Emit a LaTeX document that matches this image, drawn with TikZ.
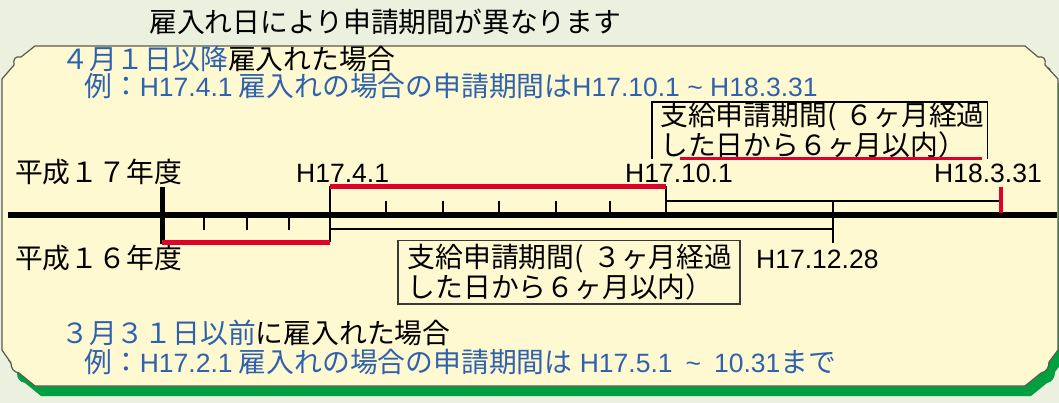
\documentclass[tikz,border=0pt]{standalone}
\usepackage{fontspec}
\setmainfont{Noto Sans CJK JP}
\newfontfamily\latinfam{Liberation Sans}
\newcommand\lt[1]{{\latinfam\fontsize{26.5}{28}\selectfont #1}}
\definecolor{bgcol}{HTML}{EBF1DE}
\definecolor{cardcol}{HTML}{FFF9D1}
\definecolor{cardline}{HTML}{5A5A4A}
\definecolor{shadowgreen}{HTML}{00A040}
\definecolor{txtblue}{HTML}{2F62AE}
\definecolor{markred}{HTML}{E1002A}
\definecolor{boxgray}{HTML}{3A3A3A}
\tikzset{
  txt/.style={inner sep=0pt, anchor=base west, font=\fontsize{27.8}{28}\selectfont},
  bluetxt/.style={txt, text=txtblue},
  mainline/.style={line width=5.5pt, black},
  thinline/.style={line width=2pt, black},
  redbar/.style={line width=4.5pt, markred},
  tickline/.style={line width=1.8pt, black},
}
\begin{document}
\begin{tikzpicture}[x=1pt,y=-1pt]
\useasboundingbox (0,0) rectangle (1059,403);
\clip (0,0) rectangle (1059,403);
\fill[bgcol] (0,0) rectangle (1059,403);
% shadow
\begin{scope}[shift={(6,10)}]
\fill[shadowgreen] (35,46) -- (1025,46) -- (1038,57) .. controls (1044,56) and (1046,59) .. (1045,65) -- (1058,79) -- (1058,350) -- (1049,362) .. controls (1049,368) and (1046,372) .. (1041,373) -- (1025,386) -- (35,386) -- (19,373) .. controls (14,372) and (11,369) .. (11,363) -- (2,350) -- (2,79) -- (14,65) .. controls (13,59) and (15,56) .. (21,57) -- cycle;
\end{scope}
% card
\filldraw[fill=cardcol, draw=cardline, line width=1.2pt] (35,46) -- (1025,46) -- (1038,57) .. controls (1044,56) and (1046,59) .. (1045,65) -- (1058,79) -- (1058,350) -- (1049,362) .. controls (1049,368) and (1046,372) .. (1041,373) -- (1025,386) -- (35,386) -- (19,373) .. controls (14,372) and (11,369) .. (11,363) -- (2,350) -- (2,79) -- (14,65) .. controls (13,59) and (15,56) .. (21,57) -- cycle;

% texts
\node[txt] (title) at (149,33) {雇入れ日により申請期間が異なります};
\node[bluetxt] (after) at (61,70) {４月１日以降\textcolor{black}{雇入れた場合}};
\node[bluetxt] (ex1) at (84,97) {例：\lt{H17.4.1} 雇入れの場合の申請期間は\lt{H17.10.1 \textasciitilde\ H18.3.31}};
\node[txt] (fy17) at (15,183) {平成１７年度};
\node[txt] (fy16) at (15,268) {平成１６年度};
\node[txt] (d0401) at (296,183) {\lt{H17.4.1}};
\node[txt] (d1001) at (625,183) {\lt{H17.10.1}};
\node[txt] (d0331) at (934,183) {\lt{H18.3.31}};
\node[txt] (d1228) at (756,268) {\lt{H17.12.28}};
\node[bluetxt] (before) at (61,343) {３月３１日以前\textcolor{black}{に雇入れた場合}};
\node[bluetxt] (ex2) at (84,372) {例：\lt{H17.2.1} 雇入れの場合の申請期間は\lt{ H17.5.1\hspace{13pt}\textasciitilde\hspace{13pt}10.31}まで};

% boxes
\node[align=left, inner ysep=0pt, font=\fontsize{27.8}{27}\selectfont, anchor=north west, text width=319pt, inner xsep=8pt, minimum width=335pt, minimum height=56pt] (box6) at (652,102) {\mbox{支給申請期間(\ ６ヶ月経過}\\\mbox{した日から６ヶ月以内）}};
\draw[line width=1.8pt, black] (box6.south west) -- (box6.north west) -- (box6.north east) -- (box6.south east);
\draw[line width=2.5pt, markred] ([xshift=28pt]box6.south west) -- ([xshift=-5pt]box6.south east);
\node[align=left, inner ysep=0pt, font=\fontsize{27.8}{26}\selectfont, draw=boxgray, line width=1.5pt, anchor=north west, text width=322pt, inner xsep=10pt, minimum width=342pt, minimum height=63pt] (box3) at (397,240) {\mbox{支給申請期間(\ ３ヶ月経過}\\\mbox{した日から６ヶ月以内）}};

% timeline coordinates
\coordinate (L) at (8,215);
\coordinate (R) at (1057,215);
\coordinate (jan) at (162,215);
\coordinate (apr) at (330,215);
\coordinate (oct) at (666,215);
\coordinate (dec) at (833,215);
\coordinate (mar) at (1001,215);

% thin period lines
\draw[thinline] (apr |- 0,186.5) -- (apr |- 0,242.5);
\draw[thinline] (apr |- 0,229) -- (dec |- 0,229);
\draw[thinline] (dec |- 0,201) -- (dec |- 0,243);
\draw[thinline] (oct |- 0,186.5) -- (oct);
\draw[thinline] (oct |- 0,201) -- (mar |- 0,201);
% ticks
\foreach \tx in {204,247,289} \draw[tickline] (\tx,215) -- (\tx,230.5);
\foreach \tx in {386,443,499,556,610} \draw[tickline] (\tx,201) -- (\tx,215);
% main line
\draw[mainline] (L) -- (R);
\draw[line width=5pt, black] (jan |- 0,187) -- (jan |- 0,244);
% red bars
\draw[redbar] (jan |- 0,242.5) -- (apr |- 0,242.5);
\draw[redbar] (apr |- 0,186.5) -- (oct |- 0,186.5);
\draw[line width=4pt, markred] (mar |- 0,187) -- (mar |- 0,213);
\end{tikzpicture}
\end{document}
